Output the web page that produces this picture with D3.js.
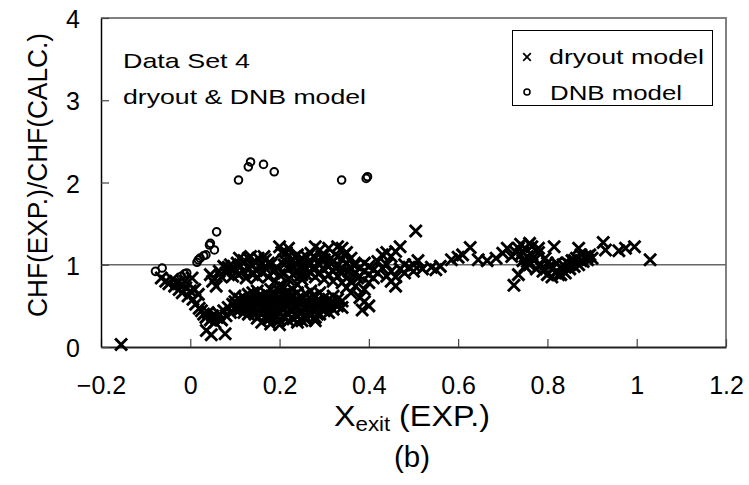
<!DOCTYPE html>
<html>
<head>
<meta charset="utf-8">
<script src="https://cdn.jsdelivr.net/npm/d3@7"></script>
<style>
  body { margin: 0; background: #fff; }
  text { font-family: "Liberation Sans", Arial, sans-serif; fill: #000; }
</style>
</head>
<body>
<div id="chart-area"></div>
<script>
// tick values and labels
var xTickValues = [-0.2, 0, 0.2, 0.4, 0.6, 0.8, 1, 1.2];
var xTickLabels = ['\u22120.2', '0', '0.2', '0.4', '0.6', '0.8', '1', '1.2'];
var yTickValues = [0, 1, 2, 3, 4];
var yTickLabels = ['0', '1', '2', '3', '4'];

// dryout model points [Xexit, CHF ratio]
var dryoutPoints = [
  [-0.155, 0.03],
  // left descending group
  [-0.065, 0.84], [-0.055, 0.80], [-0.048, 0.77], [-0.04, 0.82], [-0.035, 0.74], [-0.03, 0.78],
  [-0.025, 0.70], [-0.02, 0.76], [-0.018, 0.66], [-0.012, 0.80], [-0.01, 0.72], [-0.005, 0.62],
  [0.0, 0.68], [0.004, 0.84], [0.006, 0.58], [0.01, 0.70], [0.012, 0.52], [0.018, 0.64],
  [0.02, 0.47], [0.025, 0.44], [0.03, 0.40], [0.035, 0.36], [0.04, 0.42], [0.045, 0.33],
  [0.036, 0.20], [0.047, 0.15], [0.078, 0.16], [0.05, 0.38], [0.055, 0.30], [0.06, 0.36],
  [0.065, 0.40], [0.07, 0.33], [0.075, 0.44], [0.08, 0.38], [0.085, 0.48], [0.09, 0.42],
  [0.095, 0.52], [0.1, 0.46],
  [0.045, 0.88], [0.05, 0.80], [0.058, 0.74], [0.065, 0.92], [0.07, 0.85], [0.075, 0.98], [0.08, 0.90],
  // upper band 0.08 - 0.21
  [0.085, 0.97], [0.09, 1.0], [0.095, 0.86], [0.1, 0.95], [0.105, 1.02], [0.108, 0.88],
  [0.112, 0.98], [0.118, 0.92], [0.12, 1.05], [0.125, 0.84], [0.13, 1.08], [0.132, 0.95],
  [0.138, 1.0], [0.14, 0.88], [0.145, 1.04], [0.148, 0.93], [0.152, 1.08], [0.155, 0.98],
  [0.16, 1.02], [0.162, 0.90], [0.168, 1.06], [0.17, 0.95], [0.175, 0.85], [0.18, 1.0],
  [0.185, 0.92], [0.19, 0.80], [0.195, 0.96], [0.2, 1.22], [0.205, 1.15], [0.21, 1.06], [0.2, 0.88],
  [0.11, 1.08], [0.135, 1.1], [0.15, 0.85], [0.165, 1.1], [0.175, 1.02],
  // lower dense band 0.10 - 0.34
  [0.10, 0.55], [0.10, 0.62], [0.11, 0.45], [0.11, 0.58], [0.11, 0.50],
  [0.12, 0.52], [0.12, 0.60], [0.12, 0.42], [0.13, 0.48], [0.13, 0.56], [0.13, 0.64], [0.13, 0.40],
  [0.14, 0.50], [0.14, 0.58], [0.14, 0.45], [0.14, 0.66],
  [0.15, 0.35], [0.15, 0.52], [0.15, 0.60], [0.15, 0.44], [0.15, 0.68],
  [0.16, 0.30], [0.16, 0.48], [0.16, 0.56], [0.16, 0.62], [0.16, 0.40],
  [0.17, 0.38], [0.17, 0.50], [0.17, 0.58], [0.17, 0.65], [0.17, 0.45],
  [0.18, 0.28], [0.18, 0.44], [0.18, 0.54], [0.18, 0.60], [0.18, 0.70],
  [0.19, 0.34], [0.19, 0.48], [0.19, 0.56], [0.19, 0.64], [0.19, 0.40],
  [0.20, 0.27], [0.20, 0.42], [0.20, 0.52], [0.20, 0.60], [0.20, 0.68], [0.20, 0.75],
  [0.21, 0.36], [0.21, 0.46], [0.21, 0.56], [0.21, 0.64], [0.21, 0.72],
  [0.22, 0.40], [0.22, 0.50], [0.22, 0.58], [0.22, 0.66], [0.22, 0.82],
  [0.23, 0.34], [0.23, 0.44], [0.23, 0.54], [0.23, 0.62], [0.23, 0.70],
  [0.24, 0.38], [0.24, 0.48], [0.24, 0.58], [0.24, 0.66], [0.24, 0.76],
  [0.25, 0.32], [0.25, 0.42], [0.25, 0.52], [0.25, 0.60], [0.25, 0.88],
  [0.26, 0.36], [0.26, 0.46], [0.26, 0.56], [0.26, 0.64],
  [0.27, 0.40], [0.27, 0.50], [0.27, 0.58], [0.27, 0.68],
  [0.28, 0.36], [0.28, 0.44], [0.28, 0.54], [0.28, 0.62],
  [0.29, 0.40], [0.29, 0.48], [0.29, 0.56], [0.29, 0.66],
  [0.30, 0.44], [0.30, 0.52], [0.30, 0.60], [0.31, 0.42], [0.31, 0.50], [0.31, 0.58],
  [0.32, 0.46], [0.32, 0.54], [0.32, 0.62], [0.33, 0.50], [0.33, 0.58], [0.34, 0.48], [0.34, 0.56],
  [0.125, 0.46], [0.135, 0.52], [0.145, 0.40], [0.145, 0.55], [0.155, 0.48], [0.155, 0.62],
  [0.165, 0.44], [0.165, 0.53], [0.175, 0.55], [0.175, 0.34], [0.185, 0.50], [0.185, 0.62],
  [0.195, 0.45], [0.195, 0.58], [0.205, 0.48], [0.205, 0.64], [0.215, 0.52], [0.215, 0.42],
  [0.225, 0.46], [0.225, 0.62], [0.235, 0.50], [0.235, 0.40], [0.245, 0.55], [0.245, 0.43],
  [0.255, 0.48], [0.255, 0.38], [0.265, 0.52], [0.265, 0.42], [0.275, 0.46], [0.275, 0.62],
  [0.285, 0.50], [0.285, 0.40], [0.295, 0.52], [0.305, 0.48], [0.315, 0.54], [0.325, 0.52],
  [0.18, 0.36], [0.2, 0.33], [0.22, 0.32], [0.24, 0.30], [0.26, 0.33], [0.28, 0.32],
  // upper band 0.21 - 0.50
  [0.21, 1.0], [0.21, 0.9], [0.22, 1.1], [0.22, 0.95], [0.22, 1.2],
  [0.23, 1.05], [0.23, 0.88], [0.23, 0.98], [0.24, 1.12], [0.24, 0.92], [0.24, 1.0],
  [0.25, 1.0], [0.25, 1.08], [0.25, 0.82], [0.26, 0.95], [0.26, 1.1], [0.26, 0.88],
  [0.27, 1.02], [0.27, 0.9], [0.27, 1.14], [0.28, 0.96], [0.28, 1.22], [0.28, 1.08], [0.28, 0.85],
  [0.29, 1.0], [0.29, 1.18], [0.29, 0.9], [0.30, 1.06], [0.30, 0.94], [0.30, 0.82], [0.30, 1.12],
  [0.31, 0.98], [0.31, 0.88], [0.31, 1.2], [0.32, 1.04], [0.32, 0.92], [0.32, 0.80],
  [0.33, 1.1], [0.33, 1.0], [0.33, 0.86], [0.33, 1.22],
  [0.34, 1.2], [0.34, 0.96], [0.34, 0.9], [0.34, 1.06], [0.34, 0.78],
  [0.35, 1.15], [0.35, 1.02], [0.35, 0.84], [0.35, 0.72],
  [0.36, 1.08], [0.36, 0.95], [0.36, 0.8], [0.36, 0.66],
  [0.37, 1.0], [0.37, 0.9], [0.37, 0.74], [0.38, 0.96], [0.38, 0.86], [0.38, 0.6],
  [0.39, 1.02], [0.39, 0.92], [0.39, 0.7], [0.39, 0.55], [0.385, 0.45],
  [0.40, 0.98], [0.40, 0.88], [0.40, 0.78], [0.40, 0.5],
  [0.41, 0.94], [0.41, 0.84], [0.42, 1.04], [0.42, 0.9], [0.43, 1.12], [0.43, 0.96],
  [0.44, 1.15], [0.44, 0.86], [0.44, 1.0], [0.45, 1.1], [0.45, 0.8], [0.45, 0.92],
  [0.46, 1.16], [0.46, 0.74], [0.46, 0.85], [0.47, 1.22], [0.47, 0.95],
  [0.48, 0.9], [0.48, 1.0], [0.49, 0.97], [0.505, 1.41], [0.50, 1.0], [0.50, 0.92],
  [0.215, 1.15], [0.235, 1.1], [0.245, 0.86], [0.255, 0.96], [0.265, 1.04], [0.275, 0.95],
  [0.285, 1.02], [0.295, 1.1], [0.305, 1.0], [0.315, 1.08], [0.325, 0.96], [0.345, 1.12],
  [0.355, 0.92], [0.365, 1.0], [0.375, 0.84],
  // sparse middle 0.5 - 0.72
  [0.51, 1.05], [0.52, 0.95], [0.54, 0.97], [0.55, 0.94], [0.56, 0.98], [0.585, 1.06],
  [0.60, 1.09], [0.61, 1.12], [0.627, 1.21], [0.645, 1.06], [0.665, 1.05], [0.685, 1.08],
  [0.70, 1.14], [0.71, 1.2], [0.72, 1.1],
  // right cluster 0.72 - 1.03
  [0.725, 0.75], [0.735, 0.88], [0.73, 1.15], [0.74, 1.25], [0.745, 1.05], [0.75, 1.2],
  [0.75, 0.98], [0.755, 1.1], [0.76, 1.0], [0.765, 1.22], [0.77, 1.05], [0.775, 0.95],
  [0.78, 1.15], [0.785, 1.0], [0.79, 0.92], [0.795, 1.08], [0.80, 0.88], [0.805, 0.98],
  [0.81, 0.85], [0.815, 1.22], [0.82, 0.92], [0.82, 1.02], [0.825, 0.88], [0.83, 0.96],
  [0.835, 1.0], [0.84, 0.9], [0.845, 1.02], [0.85, 0.95], [0.855, 1.05], [0.86, 0.98],
  [0.865, 1.08], [0.87, 1.2], [0.87, 1.0], [0.875, 1.12], [0.88, 1.04], [0.885, 1.1],
  [0.89, 1.06], [0.895, 1.12], [0.90, 1.08], [0.925, 1.27], [0.93, 1.18], [0.96, 1.17],
  [0.975, 1.2], [0.995, 1.22], [1.03, 1.06], [0.78, 1.2], [0.74, 1.12], [0.76, 1.26],
  [0.735, 1.2], [0.745, 1.15], [0.755, 1.04], [0.765, 1.12], [0.80, 1.02], [0.81, 0.95],
  [0.83, 0.88], [0.84, 0.97], [0.85, 1.0], [0.86, 1.05], [0.875, 1.05], [0.89, 1.1]
];

// DNB model points [Xexit, CHF ratio]
var dnbPoints = [
  [-0.078, 0.92], [-0.063, 0.96], [-0.02, 0.86], [-0.013, 0.89], [-0.008, 0.90],
  [0.015, 1.03], [0.018, 1.06], [0.022, 1.08], [0.03, 1.11], [0.035, 1.12],
  [0.043, 1.24], [0.045, 1.26], [0.054, 1.18], [0.059, 1.40],
  [0.108, 2.03], [0.13, 2.19], [0.135, 2.25], [0.164, 2.22], [0.188, 2.13],
  [0.339, 2.03], [0.394, 2.05], [0.397, 2.07]
];

var legendLabels = ['dryout model', 'DNB model'];

var margin = { left: 101, right: 23, top: 18, bottom: 138 };
var width = 749 - margin.left - margin.right;
var height = 485 - margin.top - margin.bottom;

var svg = d3.select('#chart-area')
  .append('svg')
    .attr('width', 749)
    .attr('height', 485);

var graph = svg.append('g')
    .attr('transform', `translate(${margin.left}, ${margin.top})`);

var x = d3.scaleLinear().domain([-0.2, 1.2]).range([0, width]);
var y = d3.scaleLinear().domain([0, 4]).range([height, 0]);

// frame: top and right in grey
graph.append('path')
    .attr('d', `M0,0H${width}V${height}`)
    .attr('fill', 'none')
    .attr('stroke', '#808080')
    .attr('stroke-width', 2);

// reference line at ratio 1
graph.append('line')
    .attr('x1', x(-0.2)).attr('x2', x(1.2))
    .attr('y1', y(1)).attr('y2', y(1))
    .attr('stroke', '#666')
    .attr('stroke-width', 1.5);

// x axis
var xAxisCall = d3.axisBottom(x)
  .tickValues(xTickValues)
  .tickSize(-8)
  .tickSizeOuter(0)
  .tickFormat((d, i) => xTickLabels[i]);

var xAxis = graph.append('g')
    .attr('class', 'x axis')
    .attr('transform', `translate(0, ${height})`)
    .call(xAxisCall);
xAxis.select('.domain').attr('stroke', '#222').attr('stroke-width', 2);
xAxis.selectAll('.tick line').attr('stroke', '#444').attr('stroke-width', 1.2);
xAxis.selectAll('text')
    .attr('y', 47)
    .attr('dy', null)
    .attr('font-size', '25px')
    .attr('font-family', null);

// y axis
var yAxisCall = d3.axisLeft(y)
  .tickValues(yTickValues)
  .tickSize(-8)
  .tickSizeOuter(0)
  .tickPadding(21)
  .tickFormat((d, i) => yTickLabels[i]);

var yAxis = graph.append('g')
    .attr('class', 'y axis')
    .call(yAxisCall);
yAxis.select('.domain').attr('stroke', '#000').attr('stroke-width', 1.5);
yAxis.selectAll('.tick line').attr('stroke', '#444').attr('stroke-width', 1.2);
yAxis.selectAll('text')
    .attr('dy', '0.38em')
    .attr('font-size', '25px')
    .attr('font-family', null);

// markers
var crossPath = function (s) {
  return `M${-s},${-s}L${s},${s}M${-s},${s}L${s},${-s}`;
};

graph.append('g')
  .selectAll('path')
  .data(dryoutPoints)
  .enter()
  .append('path')
    .attr('transform', d => `translate(${x(d[0])}, ${y(d[1])})`)
    .attr('d', crossPath(6))
    .attr('fill', 'none')
    .attr('stroke', '#000')
    .attr('stroke-width', 2.9);

graph.append('g')
  .selectAll('circle')
  .data(dnbPoints)
  .enter()
  .append('circle')
    .attr('cx', d => x(d[0]))
    .attr('cy', d => y(d[1]))
    .attr('r', 3.8)
    .attr('fill', 'none')
    .attr('stroke', '#000')
    .attr('stroke-width', 2);

// annotation
svg.append('text')
    .attr('x', 123).attr('y', 68)
    .attr('font-size', '21px')
    .attr('textLength', 127).attr('lengthAdjust', 'spacingAndGlyphs')
    .text('Data Set 4');
svg.append('text')
    .attr('x', 123).attr('y', 104)
    .attr('font-size', '21px')
    .attr('textLength', 243).attr('lengthAdjust', 'spacingAndGlyphs')
    .text('dryout & DNB model');

// legend
var legend = svg.append('g');
legend.append('rect')
    .attr('x', 512.5).attr('y', 30.5)
    .attr('width', 200).attr('height', 75)
    .attr('fill', '#fff')
    .attr('stroke', '#000')
    .attr('stroke-width', 1);
legend.append('path')
    .attr('transform', 'translate(527, 57)')
    .attr('d', crossPath(3.8))
    .attr('stroke', '#000')
    .attr('stroke-width', 1.8);
legend.append('circle')
    .attr('cx', 527).attr('cy', 92)
    .attr('r', 3)
    .attr('fill', 'none')
    .attr('stroke', '#000')
    .attr('stroke-width', 1.6);
legend.append('text')
    .attr('x', 549).attr('y', 64)
    .attr('font-size', '21px')
    .attr('textLength', 155).attr('lengthAdjust', 'spacingAndGlyphs')
    .text(legendLabels[0]);
legend.append('text')
    .attr('x', 550).attr('y', 100)
    .attr('font-size', '21px')
    .attr('textLength', 132).attr('lengthAdjust', 'spacingAndGlyphs')
    .text(legendLabels[1]);

// y axis title
svg.append('text')
    .attr('transform', 'translate(47, 175) rotate(-90)')
    .attr('text-anchor', 'middle')
    .attr('font-size', '28px')
    .attr('textLength', 284).attr('lengthAdjust', 'spacingAndGlyphs')
    .text('CHF(EXP.)/CHF(CALC.)');

// x axis title
var xTitle = svg.append('text')
    .attr('x', 334).attr('y', 426)
    .attr('font-size', '29px')
    .attr('textLength', 156).attr('lengthAdjust', 'spacingAndGlyphs');
xTitle.append('tspan').text('X');
xTitle.append('tspan').attr('font-size', '20px').attr('dy', 5).text('exit');
xTitle.append('tspan').attr('dy', -5).text(' (EXP.)');

svg.append('text')
    .attr('x', 412).attr('y', 467)
    .attr('text-anchor', 'middle')
    .attr('font-size', '29px')
    .attr('textLength', 36).attr('lengthAdjust', 'spacingAndGlyphs')
    .text('(b)');
</script>
</body>
</html>
